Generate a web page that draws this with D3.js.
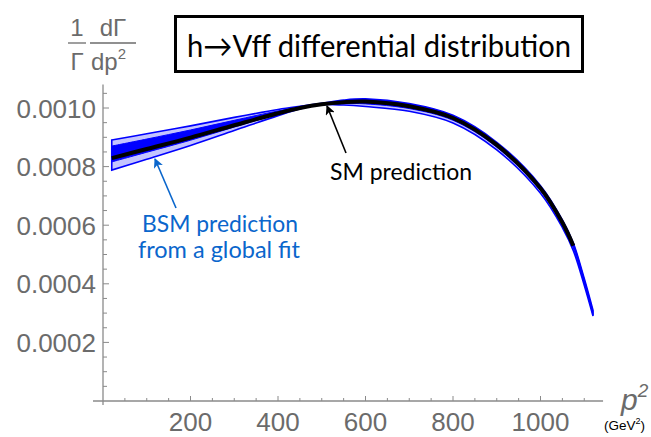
<!DOCTYPE html>
<html><head><meta charset="utf-8">
<script src="https://cdn.jsdelivr.net/npm/d3@7"></script>
<style>body{margin:0;background:#fff}svg{display:block}</style>
</head><body>
<svg id="c" width="651" height="437"></svg>
<script>
// ---- data ----
const pGrid   = [20,100,200,300,400,450,500,550,600,700,800,900,1000,1050,1075,1100,1120];
const smPred  = [0.000829,0.000860,0.000899,0.000941,0.000982,0.001000,0.001013,0.001020,0.001022,0.001006,0.000966,0.000874,0.000726,0.000609,0.000530];
const bsmHi   = [0.000891,0.000912,0.000939,0.000968,0.000995,0.001006,0.001016,0.001027,0.001031,0.001015,0.000975,0.000883,0.000735,0.000618,0.000539,0.000418,0.000310];
const bsmMidHi= [0.000870,0.000894,0.000925,0.000958,0.000990,0.001003,0.001015,0.001025,0.001029,0.001013,0.000973,0.000881,0.000733,0.000616,0.000537,0.000415,0.000306];
const bsmMidLo= [0.000816,0.000849,0.000890,0.000935,0.000979,0.000999,0.001012,0.001015,0.001014,0.000998,0.000958,0.000866,0.000718,0.000601,0.000522,0.000401,0.000294];
const bsmLo   = [0.000788,0.000825,0.000872,0.000923,0.000974,0.000997,0.001011,0.001010,0.001005,0.000989,0.000949,0.000857,0.000709,0.000592,0.000513,0.000395,0.000290];
const xMajor  = [200,400,600,800,1000];
const yMajor  = [0.0002,0.0004,0.0006,0.0008,0.0010];
const yLabels = ["0.0002","0.0004","0.0006","0.0008","0.0010"];
const titleText = "h\u2192Vff differential distribution";

const svg = d3.select("#c");
const x = d3.scaleLinear().domain([0,1000]).range([103,540.5]);
const y = d3.scaleLinear().domain([0,0.001]).range([401,108]);
const gray = "#8a8a8a", lab = "#6b6b6b", bsmBlue = "#0a66cc";

// axes lines
svg.append("line").attr("x1",93).attr("x2",x(1143)).attr("y1",y(0)).attr("y2",y(0)).attr("stroke",gray).attr("stroke-width",1.3);
svg.append("line").attr("x1",x(0)).attr("x2",x(0)).attr("y1",405).attr("y2",y(0.00108)).attr("stroke",gray).attr("stroke-width",1.3);

// x ticks
const xMinor = d3.range(50,1101,50);
svg.selectAll(".xt").data(xMinor).join("line")
  .attr("x1",d=>x(d)).attr("x2",d=>x(d)).attr("y1",y(0)).attr("y2",d=>y(0)-(d%200===0?5:3))
  .attr("stroke",gray).attr("stroke-width",1);
svg.selectAll(".xl").data(xMajor).join("text")
  .attr("x",d=>x(d)).attr("y",431).attr("text-anchor","middle")
  .attr("font-family","Liberation Sans, Arial, sans-serif").attr("font-size",26).attr("fill",lab)
  .text(d=>d);

// y ticks
const yMinor = d3.range(1,22).map(i=>i*0.00005);
svg.selectAll(".yt").data(yMinor).join("line")
  .attr("x1",x(0)).attr("x2",(d,i)=>x(0)+((i+1)%4===0?6:4)).attr("y1",d=>y(d)).attr("y2",d=>y(d))
  .attr("stroke",gray).attr("stroke-width",1);
svg.selectAll(".yl").data(yMajor).join("text")
  .attr("x",96).attr("y",d=>y(d)+9.5).attr("text-anchor","end")
  .attr("font-family","Liberation Sans, Arial, sans-serif").attr("font-size",26).attr("fill",lab)
  .text((d,i)=>yLabels[i]);

// band data
const rows = pGrid.map((p,i)=>({p,hi:bsmHi[i],mh:bsmMidHi[i],ml:bsmMidLo[i],lo:bsmLo[i],sm:smPred[i]}));
const curve = d3.curveCatmullRom.alpha(0.5);
svg.append("path").datum(rows)
  .attr("d",d3.area().x(d=>x(d.p)).y0(d=>y(d.lo)).y1(d=>y(d.hi)).curve(curve))
  .attr("fill","#c4c4ff").attr("stroke","#0000ff").attr("stroke-width",1.6);
svg.append("path").datum(rows)
  .attr("d",d3.area().x(d=>x(d.p)).y0(d=>y(d.ml)).y1(d=>y(d.mh)).curve(curve))
  .attr("fill","#0000ff").attr("stroke","#0000ff").attr("stroke-width",1);
svg.append("path").datum(rows.filter(d=>d.sm!==undefined))
  .attr("d",d3.line().x(d=>x(d.p)).y(d=>y(d.sm)).curve(curve))
  .attr("fill","none").attr("stroke","#000").attr("stroke-width",4);

// arrows
const defs = svg.append("defs");
function marker(id,col){
  defs.append("marker").attr("id",id).attr("viewBox","0 0 10 10").attr("refX",9).attr("refY",5)
    .attr("markerWidth",6).attr("markerHeight",6).attr("orient","auto")
    .append("path").attr("d","M0,0 L10,5 L0,10 L2.5,5 Z").attr("fill",col);
}
marker("ak","#000"); marker("ab",bsmBlue);
svg.append("line").attr("x1",346).attr("y1",153).attr("x2",327).attr("y2",106)
  .attr("stroke","#000").attr("stroke-width",1.6).attr("marker-end","url(#ak)");
svg.append("line").attr("x1",176).attr("y1",208).attr("x2",155).attr("y2",159)
  .attr("stroke",bsmBlue).attr("stroke-width",1.6).attr("marker-end","url(#ab)");

// annotation texts
const hum = "Lato, 'Open Sans', sans-serif";
svg.append("text").attr("x",330).attr("y",180).attr("font-family",hum).attr("font-size",23)
  .attr("textLength",142).attr("lengthAdjust","spacingAndGlyphs").attr("fill","#000").text("SM prediction");
svg.append("text").attr("x",142).attr("y",232).attr("font-family",hum).attr("font-size",23)
  .attr("textLength",156).attr("lengthAdjust","spacingAndGlyphs").attr("fill",bsmBlue).text("BSM prediction");
svg.append("text").attr("x",138).attr("y",258).attr("font-family",hum).attr("font-size",23)
  .attr("textLength",162).attr("lengthAdjust","spacingAndGlyphs").attr("fill",bsmBlue).text("from a global fit");

// title box
svg.append("rect").attr("x",175.5).attr("y",16.5).attr("width",407).attr("height",55)
  .attr("fill","#fff").attr("stroke","#000").attr("stroke-width",3);
svg.append("text").attr("x",187).attr("y",57).attr("font-family",hum).attr("font-size",31)
  .attr("textLength",384).attr("lengthAdjust","spacingAndGlyphs").attr("fill","#000").text(titleText);

// y-axis label (fraction)
const lf = "Liberation Sans, Arial, sans-serif";
svg.append("text").attr("x",77).attr("y",36).attr("text-anchor","middle").attr("font-family",lf).attr("font-size",24).attr("fill",lab).text("1");
svg.append("line").attr("x1",68).attr("x2",86).attr("y1",43).attr("y2",43).attr("stroke",lab).attr("stroke-width",1.3);
svg.append("text").attr("x",77).attr("y",70).attr("text-anchor","middle").attr("font-family",lf).attr("font-size",24).attr("fill",lab).text("\u0393");
svg.append("text").attr("x",113).attr("y",36).attr("text-anchor","middle").attr("font-family",lf).attr("font-size",24).attr("fill",lab).text("d\u0393");
svg.append("line").attr("x1",90).attr("x2",136).attr("y1",43).attr("y2",43).attr("stroke",lab).attr("stroke-width",1.3);
const dp = svg.append("text").attr("x",91).attr("y",70).attr("font-family",lf).attr("font-size",24).attr("fill",lab);
dp.append("tspan").text("dp");
dp.append("tspan").attr("dy",-11).attr("font-size",15).text("2");

// x-axis label
const pl = svg.append("text").attr("x",621).attr("y",410).attr("font-family",lf).attr("font-style","italic").attr("font-size",30).attr("fill",lab);
pl.append("tspan").text("p");
pl.append("tspan").attr("dy",-13).attr("font-size",19).text("2");
const gv = svg.append("text").attr("x",604).attr("y",430).attr("font-family",lf).attr("font-size",13.5).attr("fill","#000");
gv.append("tspan").text("(GeV");
gv.append("tspan").attr("dy",-6).attr("font-size",9).text("2");
gv.append("tspan").attr("dy",6).text(")");
</script>
</body></html>
